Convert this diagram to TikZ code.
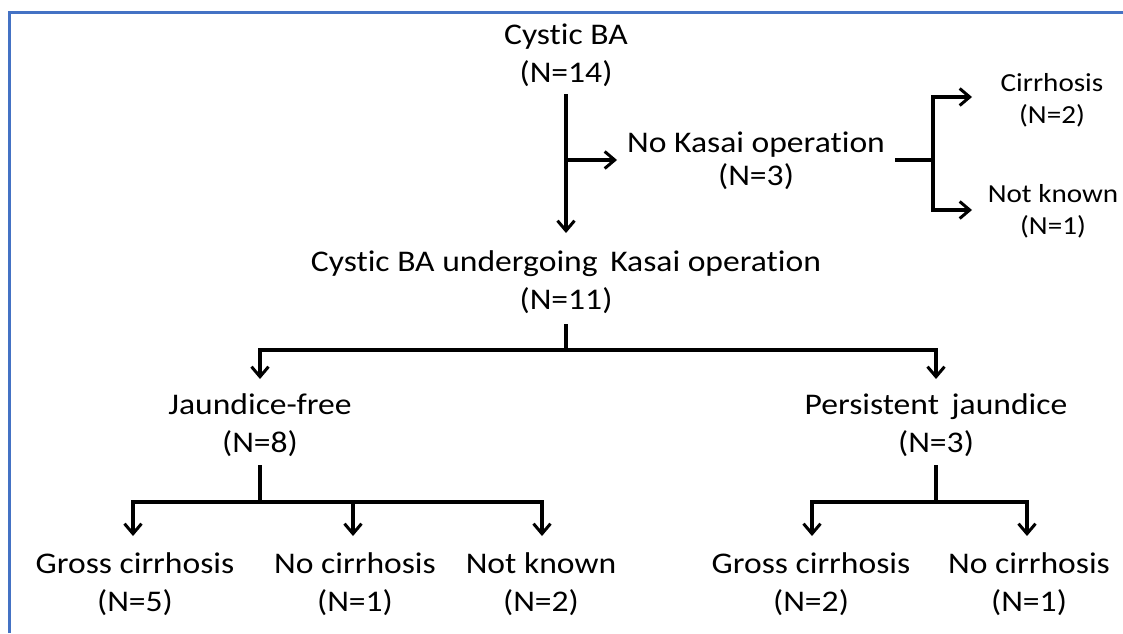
\documentclass[tikz,border=0pt]{standalone}
\usepackage{fontspec}
\setmainfont{Carlito}[FakeStretch=1.12, Ligatures=NoCommon]
\usetikzlibrary{arrows.meta}
\definecolor{frameblue}{HTML}{4472C4}
\tikzset{
  lbl/.style={align=center, inner sep=0pt, anchor=base, font=\fontsize{30}{38}\selectfont},
  lblnarrow/.style={lbl, font=\fontsize{30}{33}\selectfont},
  lblsmall/.style={lbl, font=\fontsize{26}{32}\selectfont},
  conn/.style={line width=3.2pt, line cap=rect},
  arr/.style={conn, -{Straight Barb[length=10pt,width=17pt,line width=3pt]}},
}
\begin{document}
\begin{tikzpicture}[x=1pt,y=-1pt]
\useasboundingbox (0,0) rectangle (1123,633);
\draw[frameblue, line width=3pt] (9,633) -- (9,12) -- (1123,12);

% nodes (anchor=base is the baseline of the last line)
\node[lbl] (cba) at (566,82) {Cystic BA\\(N=14)};
\node[lblnarrow] (nok) at (756,185) {No Kasai operation\\(N=3)};
\node[lblsmall] (cir) at (1052,123) {Cirrhosis\\(N=2)};
\node[lblsmall] (nk1) at (1053,234) {Not known\\(N=1)};
\node[lbl] (cbk) at (566,309) {Cystic BA undergoing\, Kasai operation\\(N=11)};
\node[lbl] (jf) at (260,452) {Jaundice-free\\(N=8)};
\node[lbl] (pj) at (936,452) {Persistent\, jaundice\\(N=3)};
\node[lbl] (gc1) at (135,611) {Gross cirrhosis\\(N=5)};
\node[lbl] (nc1) at (355,611) {No cirrhosis\\(N=1)};
\node[lbl] (nk2) at (541,611) {Not known\\(N=2)};
\node[lbl] (gc2) at (811,611) {Gross cirrhosis\\(N=2)};
\node[lbl] (nc2) at (1029,611) {No cirrhosis\\(N=1)};

% connector points
\coordinate (a0) at (cba.center |- 0,96);
\coordinate (a1) at (cba.center |- 0,233);
\coordinate (b0) at (cba.center |- 0,160);
\coordinate (b1) at (617,160);
\coordinate (c0) at (897,160);
\coordinate (c1) at (933,160);
\coordinate (c4) at (972,97);
\coordinate (c5) at (972,210);
\coordinate (d0) at (cbk.center |- 0,326);
\coordinate (d1) at (cbk.center |- 0,350);
\coordinate (j1) at (jf.center |- 0,379);
\coordinate (p1) at (pj.center |- 0,379);
\coordinate (e0) at (jf.center |- 0,467);
\coordinate (e1) at (jf.center |- 0,502);
\coordinate (f0) at (pj.center |- 0,467);
\coordinate (f1) at (pj.center |- 0,502);
\coordinate (g1) at (133,536);
\coordinate (g2) at (353,536);
\coordinate (g3) at (542,536);
\coordinate (h1) at (812,536);
\coordinate (h2) at (1027,536);

\draw[arr] (a0) -- (a1);
\draw[arr] (b0) -- (b1);
\draw[conn] (c0) -- (c1);
\draw[arr] (c1) |- (c4);
\draw[arr] (c1) |- (c5);

\draw[conn] (d0) -- (d1);
\draw[arr] (d1) -| (j1);
\draw[arr] (d1) -| (p1);

\draw[conn] (e0) -- (e1);
\draw[arr] (e1) -| (g1);
\draw[arr] (e1) -| (g2);
\draw[arr] (e1) -| (g3);

\draw[conn] (f0) -- (f1);
\draw[arr] (f1) -| (h1);
\draw[arr] (f1) -| (h2);
\end{tikzpicture}
\end{document}
